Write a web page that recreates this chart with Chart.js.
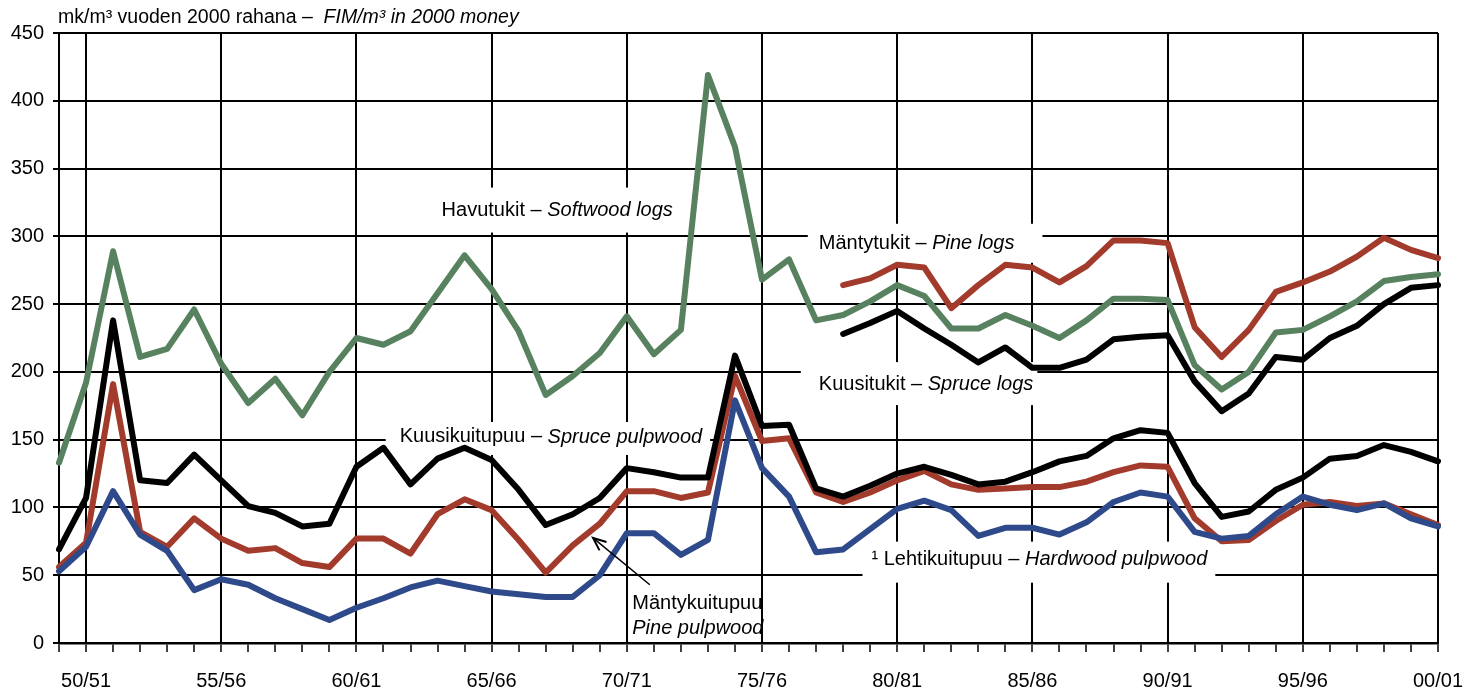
<!DOCTYPE html>
<html>
<head>
<meta charset="utf-8">
<script src="https://cdn.jsdelivr.net/npm/chart.js@4/dist/chart.umd.min.js"></script>
<style>
html, body { margin: 0; padding: 0; background: #fff; }
#wrap { width: 1468px; height: 693px; }
</style>
</head>
<body>
<div id="wrap"><canvas id="graphic-prices"></canvas></div>
<script>
const seasons = ['49/50', '50/51', '51/52', '52/53', '53/54', '54/55', '55/56', '56/57', '57/58', '58/59',
    '59/60', '60/61', '61/62', '62/63', '63/64', '64/65', '65/66', '66/67', '67/68', '68/69',
    '69/70', '70/71', '71/72', '72/73', '73/74', '74/75', '75/76', '76/77', '77/78', '78/79',
    '79/80', '80/81', '81/82', '82/83', '83/84', '84/85', '85/86', '86/87', '87/88', '88/89',
    '89/90', '90/91', '91/92', '92/93', '93/94', '94/95', '95/96', '96/97', '97/98', '98/99',
    '99/00', '00/01'];
const tickLabels = ['50/51', '55/56', '60/61', '65/66', '70/71', '75/76', '80/81', '85/86', '90/91', '95/96', '00/01'];

// Havutukit - softwood logs
const softwoodLogs = [133, 192, 289, 211, 217, 246, 206, 177, 195, 168, 200,
    225, 220, 230, 258, 286, 261, 230, 183, 197, 214,
    241, 213, 231, 419, 366, 268, 283, 238, 242, 252,
    264, 256, 232, 232, 242, 234, 225, 238, 254, 254,
    253, 205, 187, 200, 229, 231, 241, 252, 267, 270, 272];
// Mäntytukit - pine logs
const pineLogs = [null, null, null, null, null, null, null, null, null, null, null,
    null, null, null, null, null, null, null, null, null, null,
    null, null, null, null, null, null, null, null, 264, 269,
    279, 277, 247, 264, 279, 277, 266, 278, 297, 297,
    295, 233, 211, 231, 259, 266, 274, 285, 299, 290, 284];
// Kuusitukit - spruce logs
const spruceLogs = [null, null, null, null, null, null, null, null, null, null, null,
    null, null, null, null, null, null, null, null, null, null,
    null, null, null, null, null, null, null, null, 228, 236,
    245, 232, 220, 207, 218, 203, 203, 209, 224, 226,
    227, 193, 171, 184, 211, 209, 225, 234, 250, 262, 264];
// Kuusikuitupuu - spruce pulpwood
const sprucePulp = [69, 107, 238, 120, 118, 139, 120, 101, 96, 86, 88,
    130, 144, 117, 136, 144, 135, 113, 87, 95, 107,
    129, 126, 122, 122, 212, 160, 161, 114, 108, 116,
    125, 130, 124, 117, 119, 126, 134, 138, 151, 157,
    155, 118, 93, 97, 113, 122, 136, 138, 146, 141, 134];
// Mäntykuitupuu - pine pulpwood
const pinePulp = [56, 74, 191, 82, 71, 92, 77, 68, 70, 59, 56,
    77, 77, 66, 95, 106, 98, 76, 52, 72, 88,
    112, 112, 107, 111, 197, 149, 151, 111, 104, 111,
    120, 127, 117, 113, 114, 115, 115, 119, 126, 131,
    130, 92, 75, 76, 90, 102, 104, 101, 103, 95, 87];
// Lehtikuitupuu - hardwood pulpwood
const hardwoodPulp = [53, 71, 112, 80, 68, 39, 47, 43, 33, 25, 17,
    26, 33, 41, 46, 42, 38, 36, 34, 34, 50,
    81, 81, 65, 76, 179, 129, 108, 67, 69, 84,
    99, 105, 98, 79, 85, 85, 80, 89, 104, 111,
    108, 82, 77, 79, 95, 108, 102, 98, 103, 92, 86];

const GREEN = '#58825f';
const RED = '#a33b2c';
const BLUE = '#2f4a8b';
const BLACK = '#000000';
const FONT = '"Liberation Sans", Arial, sans-serif';

function line(data, color, order) {
    return {
        data: data,
        borderColor: color,
        backgroundColor: color,
        borderWidth: 6,
        pointRadius: 0,
        tension: 0,
        spanGaps: false,
        borderJoinStyle: 'round',
        borderCapStyle: 'round',
        order: order
    };
}

// text labels placed in data units (x = season index, y = value)
const notes = [
    { x: 14.15, y: 319, parts: [['Havutukit – ', false], ['Softwood logs', true]], box: [11, 11, 23, 22] },
    { x: 28.1, y: 294.5, parts: [['Mäntytukit – ', false], ['Pine logs', true]], box: [11, 28, 20, 19] },
    { x: 28.1, y: 191, parts: [['Kuusitukit – ', false], ['Spruce logs', true]], box: [18, 4, 22, 21] },
    { x: 12.6, y: 152, parts: [['Kuusikuitupuu – ', false], ['Spruce pulpwood', true]], box: [14, 8, 15, 18] },
    { x: 21.2, y: 29.5, parts: [['Mäntykuitupuu', false]] },
    { x: 21.2, y: 11, parts: [['Pine pulpwood', true]] },
    { x: 30.05, y: 61.5, parts: [['¹ Lehtikuitupuu – ', false], ['Hardwood pulpwood', true]], box: [9, 8, 18, 23] }
];

function fontFor(italic, size) {
    return (italic ? 'italic ' : '') + (size || 20) + 'px ' + FONT;
}

const notesPlugin = {
    id: 'notes',
    beforeDatasetsDraw(chart) {
        const { ctx, scales: { x, y } } = chart;
        ctx.save();
        ctx.textBaseline = 'middle';
        notes.forEach(n => {
            const px = x.getPixelForValue(n.x);
            const py = y.getPixelForValue(n.y);
            let w = 0;
            n.parts.forEach(p => { ctx.font = fontFor(p[1]); w += ctx.measureText(p[0]).width; });
            if (n.box) {
                ctx.fillStyle = '#fff';
                ctx.fillRect(px - n.box[0], py - n.box[2], w + n.box[0] + n.box[1], n.box[2] + n.box[3]);
            }
            let cx = px;
            ctx.fillStyle = '#000';
            n.parts.forEach(p => {
                ctx.font = fontFor(p[1]);
                ctx.fillText(p[0], cx, py);
                cx += ctx.measureText(p[0]).width;
            });
        });
        ctx.restore();
    },
    afterDraw(chart) {
        const { ctx, chartArea, scales: { x, y } } = chart;
        ctx.save();
        // arrow to the pine pulpwood line
        const x1 = x.getPixelForValue(21.85), y1 = y.getPixelForValue(43);
        const x2 = x.getPixelForValue(19.75), y2 = y.getPixelForValue(77.5);
        ctx.strokeStyle = '#000';
        ctx.fillStyle = '#000';
        ctx.lineWidth = 1.5;
        ctx.beginPath();
        ctx.moveTo(x1, y1);
        ctx.lineTo(x2, y2);
        ctx.stroke();
        const a = Math.atan2(y2 - y1, x2 - x1);
        ctx.lineWidth = 2;
        ctx.beginPath();
        ctx.moveTo(x2 - 14 * Math.cos(a - 0.4), y2 - 14 * Math.sin(a - 0.4));
        ctx.lineTo(x2, y2);
        ctx.lineTo(x2 - 14 * Math.cos(a + 0.4), y2 - 14 * Math.sin(a + 0.4));
        ctx.stroke();

        // unit line above the plot
        ctx.textBaseline = 'middle';
        ctx.font = fontFor(false, 19.5);
        const t1 = 'mk/m³ vuoden 2000 rahana –  ';
        ctx.fillText(t1, chartArea.left - 1, chartArea.top - 15);
        const w1 = ctx.measureText(t1).width;
        ctx.font = fontFor(true, 19.5);
        ctx.fillText('FIM/m³ in 2000 money', chartArea.left - 1 + w1, chartArea.top - 15);
        ctx.restore();
    }
};

const config = {
    type: 'line',
    data: {
        labels: seasons,
        datasets: [
            line(softwoodLogs, GREEN, 4),
            line(pineLogs, RED, 5),
            line(spruceLogs, BLACK, 6),
            line(sprucePulp, BLACK, 2),
            line(pinePulp, RED, 3),
            line(hardwoodPulp, BLUE, 1)
        ]
    },
    options: {
        responsive: true,
        maintainAspectRatio: false,
        animation: false,
        layout: {
            padding: { top: 33, right: 30, left: 0, bottom: 0 }
        },
        plugins: {
            legend: { display: false },
            tooltip: { enabled: false },
            title: { display: false }
        },
        scales: {
            x: {
                offset: false,
                afterFit: (scale) => {
                    scale.height = 50;
                    scale.paddingLeft = 0;
                    scale.paddingRight = 0;
                },
                border: { display: true, color: '#000', width: 2.5 },
                grid: {
                    color: (c) => tickLabels.includes(seasons[c.index]) ? '#000' : 'rgba(0,0,0,0)',
                    tickColor: '#000',
                    lineWidth: 2,
                    tickWidth: 1.5,
                    tickLength: 9,
                    drawOnChartArea: true
                },
                ticks: {
                    autoSkip: false,
                    maxRotation: 0,
                    minRotation: 0,
                    padding: 17,
                    color: '#000',
                    font: { family: FONT, size: 20 },
                    callback: (val, i) => tickLabels.includes(seasons[i]) ? seasons[i] : ''
                }
            },
            y: {
                min: 0,
                max: 450,
                afterFit: (scale) => {
                    scale.width = 59;
                    scale.paddingTop = 0;
                    scale.paddingBottom = 0;
                },
                border: { display: true, color: '#000', width: 2 },
                grid: {
                    color: '#000',
                    lineWidth: 2,
                    tickLength: 6
                },
                ticks: {
                    stepSize: 50,
                    padding: 9,
                    color: '#000',
                    font: { family: FONT, size: 20 }
                }
            }
        }
    },
    plugins: [notesPlugin]
};

new Chart(document.getElementById('graphic-prices'), config);
</script>
</body>
</html>
